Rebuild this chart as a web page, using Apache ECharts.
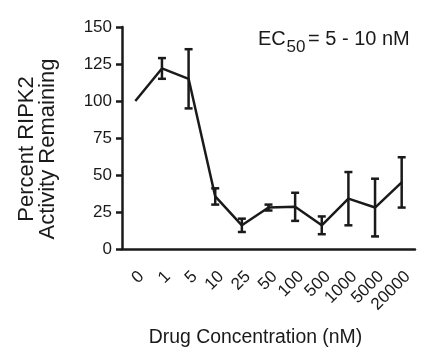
<!DOCTYPE html>
<html>
<head>
<meta charset="utf-8">
<script src="https://cdn.jsdelivr.net/npm/echarts@6/dist/echarts.min.js"></script>
<style>
  html, body { margin: 0; padding: 0; background: #fff; }
  #chart { width: 436px; height: 353px; }
</style>
</head>
<body>
<div id="chart"></div>
<script>
const concentrations = ['0', '1', '5', '10', '25', '50', '100', '500', '1000', '5000', '20000']
const activity = [100, 122, 115, 35.5, 16, 28, 28.5, 16, 34, 28, 45]
const errorSize = [0, 7, 20, 5.5, 4.5, 2, 9.5, 6, 18, 19.5, 17]
const yTicks = [0, 25, 50, 75, 100, 125, 150]

const font = 'Liberation Sans, Arial, sans-serif'
const ink = '#1a1a1a'

const chart = echarts.init(document.getElementById('chart'))

const errorData = activity.map((v, i) => [i, v - errorSize[i], v + errorSize[i]])

chart.setOption({
  animation: false,
  grid: { left: 122, right: 21, top: 27, bottom: 104 },
  xAxis: {
    type: 'category',
    data: concentrations,
    boundaryGap: true,
    axisLine: { lineStyle: { color: ink, width: 2.5 } },
    axisTick: { alignWithLabel: true, length: 6, lineStyle: { color: ink, width: 2.5 } },
    axisLabel: {
      interval: 0,
      rotate: 45,
      margin: 19,
      verticalAlign: 'top',
      color: ink,
      fontFamily: font,
      fontSize: 17,
    },
  },
  yAxis: {
    type: 'value',
    min: yTicks[0],
    max: yTicks[yTicks.length - 1],
    interval: 25,
    splitLine: { show: false },
    axisLine: { show: true, lineStyle: { color: ink, width: 2.5 } },
    axisTick: { show: true, length: 6, lineStyle: { color: ink, width: 2.5 } },
    axisLabel: { margin: 10, color: ink, fontFamily: font, fontSize: 17 },
  },
  graphic: [
    {
      type: 'text', x: 37, y: 149, rotation: Math.PI / 2,
      style: {
        text: 'Percent RIPK2\nActivity Remaining',
        font: '22px ' + font, fill: ink,
        align: 'center', verticalAlign: 'middle', lineHeight: 21,
      },
    },
    {
      type: 'text', x: 255.5, y: 338,
      style: {
        text: 'Drug Concentration (nM)',
        font: '19.4px ' + font, fill: ink,
        align: 'center', verticalAlign: 'middle',
      },
    },
    {
      type: 'text', x: 258, y: 39,
      style: { text: 'EC', font: '20px ' + font, fill: ink, align: 'left', verticalAlign: 'middle' },
    },
    {
      type: 'text', x: 286.5, y: 47,
      style: { text: '50', font: '17px ' + font, fill: ink, align: 'left', verticalAlign: 'middle' },
    },
    {
      type: 'text', x: 308, y: 39,
      style: { text: '= 5 - 10 nM', font: '20px ' + font, fill: ink, align: 'left', verticalAlign: 'middle' },
    },
  ],
  series: [
    {
      type: 'line',
      data: activity,
      showSymbol: false,
      lineStyle: { color: ink, width: 2.5 },
      z: 3,
    },
    {
      type: 'custom',
      data: errorData,
      z: 4,
      renderItem(params, api) {
        const i = api.value(0)
        if (errorSize[i] === 0) return
        const lo = api.coord([i, api.value(1)])
        const hi = api.coord([i, api.value(2)])
        const cap = 4
        const style = { stroke: ink, lineWidth: 2.5 }
        return {
          type: 'group',
          children: [
            { type: 'line', shape: { x1: lo[0], y1: lo[1], x2: hi[0], y2: hi[1] }, style },
            { type: 'line', shape: { x1: lo[0] - cap, y1: lo[1], x2: lo[0] + cap, y2: lo[1] }, style },
            { type: 'line', shape: { x1: hi[0] - cap, y1: hi[1], x2: hi[0] + cap, y2: hi[1] }, style },
          ],
        }
      },
    },
  ],
})
</script>
</body>
</html>
